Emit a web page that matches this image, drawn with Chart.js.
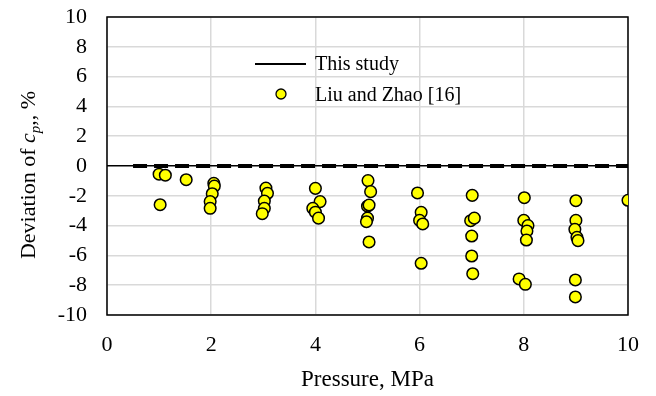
<!DOCTYPE html>
<html>
<head>
<meta charset="utf-8">
<script src="https://cdn.jsdelivr.net/npm/chart.js@4.4.0/dist/chart.umd.min.js"></script>
<style>
  html, body { margin: 0; padding: 0; background: #fff; }
  #wrap { width: 656px; height: 396px; }
</style>
</head>
<body>
<div id="wrap"><canvas id="c" width="656" height="396"></canvas></div>
<script>
// ---- Data ----
const xTicks = [0, 2, 4, 6, 8, 10];
const yTicks = [-10, -8, -6, -4, -2, 0, 2, 4, 6, 8, 10];

const studyLabel = 'This study';
const studyPressure = [0.5, 10];
const studyDeviation = [0, 0];

const liuLabel = 'Liu and Zhao [16]';
const liuPressure = [
  1.0, 1.12, 1.52, 1.02,
  2.05, 2.06, 2.02, 1.98, 1.98,
  3.05, 3.08, 3.02, 3.02, 2.98,
  4.0, 4.09, 3.95, 4.0, 4.06,
  5.01, 5.06, 5.0, 5.03, 5.0, 4.98, 5.03,
  5.96, 6.03, 6.0, 6.06, 6.03,
  7.01, 6.98, 7.05, 7.0, 7.0, 7.02,
  8.01, 8.0, 8.08, 8.06, 8.05, 7.91, 8.03,
  9.0, 9.0, 8.98, 9.02, 9.04, 8.99, 8.99,
  10.0
];
const liuDeviation = [
  -0.55, -0.62, -0.92, -2.6,
  -1.16, -1.35, -1.86, -2.39, -2.84,
  -1.48, -1.83, -2.35, -2.84, -3.2,
  -1.5, -2.39, -2.84, -3.1, -3.5,
  -0.98, -1.72, -2.7, -2.62, -3.5, -3.74, -5.1,
  -1.81, -3.11, -3.65, -3.89, -6.53,
  -1.97, -3.67, -3.5, -4.7, -6.04, -7.23,
  -2.13, -3.65, -4.0, -4.36, -4.97, -7.58, -7.94,
  -2.33, -3.65, -4.25, -4.79, -5.01, -7.65, -8.79,
  -2.3
];

const FONT = "'Liberation Serif', 'Times New Roman', serif";
const toPts = (xs, ys) => xs.map((x, i) => ({ x: x, y: ys[i] }));

const decorPlugin = {
  id: 'decor',
  beforeDatasetsDraw(chart) {
    const { ctx, chartArea: a } = chart;
    ctx.save();
    ctx.strokeStyle = '#000';
    ctx.lineWidth = 1.5;
    ctx.strokeRect(a.left, a.top, a.right - a.left, a.bottom - a.top);
    ctx.restore();
  },
  afterDraw(chart) {
    const { ctx, chartArea: a } = chart;
    ctx.save();
    ctx.fillStyle = '#000';
    // X title
    ctx.font = "23px " + FONT;
    ctx.textAlign = 'center';
    ctx.textBaseline = 'middle';
    ctx.fillText('Pressure, MPa', (a.left + a.right) / 2, 380);

    // Y title with italic c and subscript p
    ctx.translate(28, 175);
    ctx.rotate(-Math.PI / 2);
    ctx.textBaseline = 'alphabetic';
    ctx.textAlign = 'left';
    const parts = [
      { t: 'Deviation of ', f: "22px " + FONT, dy: 0 },
      { t: 'c', f: "italic 22px " + FONT, dy: 0 },
      { t: 'p', f: "italic 15px " + FONT, dy: 5 },
      { t: ',, %', f: "22px " + FONT, dy: 0 }
    ];
    let total = 0;
    parts.forEach(p => { ctx.font = p.f; p.w = ctx.measureText(p.t).width; total += p.w; });
    let x = -total / 2;
    parts.forEach(p => { ctx.font = p.f; ctx.fillText(p.t, x, 7 + p.dy); x += p.w; });
    ctx.restore();

    // Legend
    ctx.save();
    ctx.strokeStyle = '#000';
    ctx.lineWidth = 2;
    ctx.beginPath();
    ctx.moveTo(255, 64);
    ctx.lineTo(306, 64);
    ctx.stroke();
    ctx.fillStyle = '#ffff00';
    ctx.lineWidth = 1.3;
    ctx.beginPath();
    ctx.arc(281, 94, 5, 0, Math.PI * 2);
    ctx.fill();
    ctx.stroke();
    ctx.fillStyle = '#000';
    ctx.font = "20px " + FONT;
    ctx.textAlign = 'left';
    ctx.textBaseline = 'middle';
    ctx.fillText(studyLabel, 315, 65);
    ctx.fillText(liuLabel, 315, 96);
    ctx.restore();
  }
};

new Chart(document.getElementById('c'), {
  type: 'scatter',
  data: {
    datasets: [
      {
        label: studyLabel,
        data: toPts(studyPressure, studyDeviation),
        showLine: true,
        borderColor: '#000',
        borderWidth: 4,
        borderDash: [14, 7],
        borderCapStyle: 'butt',
        pointRadius: 0,
        order: 2
      },
      {
        label: liuLabel,
        data: toPts(liuPressure, liuDeviation),
        showLine: false,
        backgroundColor: '#ffff00',
        borderColor: '#000',
        borderWidth: 1.5,
        pointRadius: 5.8,
        order: 1
      }
    ]
  },
  options: {
    responsive: false,
    animation: false,
    devicePixelRatio: 1,
    layout: { padding: { left: 0, right: 28, top: 17, bottom: 0 } },
    plugins: { legend: { display: false }, tooltip: { enabled: false } },
    scales: {
      x: {
        type: 'linear', min: 0, max: 10,
        afterBuildTicks: s => { s.ticks = xTicks.map(v => ({ value: v })); },
        afterFit: s => { s.height = 81; s.paddingLeft = 0; s.paddingRight = 0; },
        grid: { color: '#d9d9d9', lineWidth: 1.5, drawTicks: false },
        border: { display: false },
        ticks: { color: '#000', font: { family: FONT, size: 22 }, padding: 17, maxRotation: 0 }
      },
      y: {
        type: 'linear', min: -10, max: 10,
        afterBuildTicks: s => { s.ticks = yTicks.map(v => ({ value: v })); },
        afterFit: s => { s.width = 107; s.paddingTop = 0; s.paddingBottom = 0; },
        grid: {
          color: ctx => (ctx.tick && ctx.tick.value === 0) ? '#000' : '#d9d9d9',
          lineWidth: 1.5, drawTicks: false
        },
        border: { display: false },
        ticks: { color: '#000', font: { family: FONT, size: 22 }, padding: 20 }
      }
    }
  },
  plugins: [decorPlugin]
});
</script>
</body>
</html>
